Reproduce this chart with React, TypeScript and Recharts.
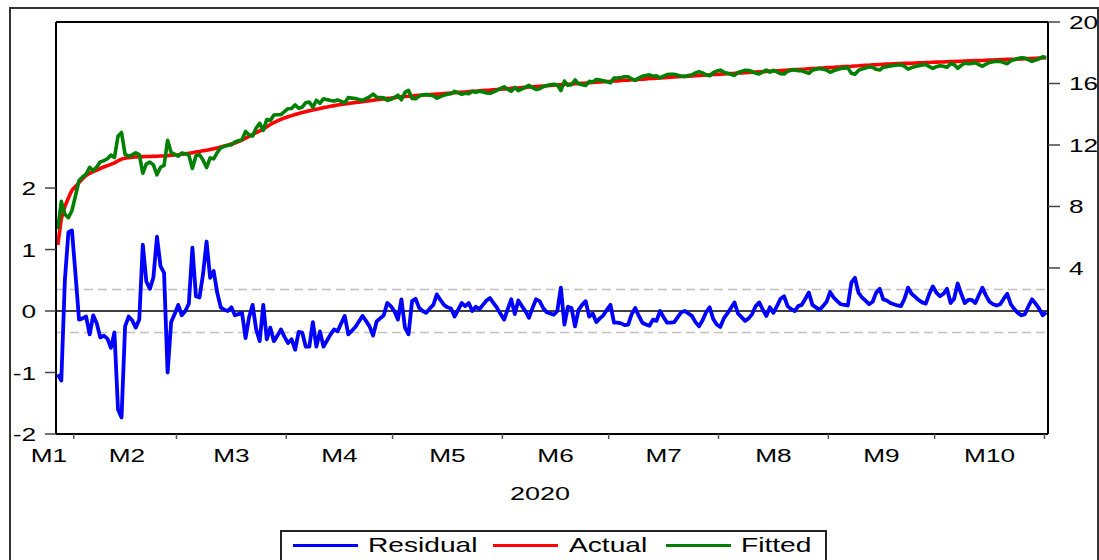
import React from 'react';
import { LineChart, Line, XAxis, YAxis, ReferenceLine } from 'recharts';

// daily observations, index 0 = first day of the sample
const RESIDUAL = [
  -1.03, -1.13, 0.5, 1.28, 1.31, 0.6, -0.14, -0.12, -0.09, -0.38,
  -0.07, -0.2, -0.43, -0.4, -0.45, -0.6, -0.35, -1.6, -1.73, -0.25,
  -0.09, -0.15, -0.27, -0.14, 1.08, 0.48, 0.36, 0.55, 1.21, 0.73,
  0.62, -1.0, -0.18, -0.05, 0.1, -0.07, 0.0, 0.12, 1.03, 0.24,
  0.22, 0.6, 1.13, 0.54, 0.65, 0.3, 0.06, 0.02, 0.0, 0.06,
  -0.07, -0.05, -0.03, -0.44, -0.1, 0.1, -0.3, -0.49, 0.1, -0.46,
  -0.27, -0.49, -0.4, -0.3, -0.42, -0.52, -0.46, -0.63, -0.34, -0.35,
  -0.58, -0.58, -0.18, -0.58, -0.33, -0.58, -0.48, -0.38, -0.3, -0.33,
  -0.2, -0.08, -0.38, -0.32, -0.26, -0.17, -0.08, -0.16, -0.25, -0.4,
  -0.17, -0.12, -0.07, 0.13, 0.08, 0.0, -0.14, 0.19, -0.27, -0.38,
  0.16, 0.2, 0.05, 0.0, -0.03, 0.04, 0.1, 0.27, 0.18, 0.1,
  0.06, 0.04, -0.09, 0.02, 0.13, 0.08, 0.13, 0.0, 0.07, 0.03,
  0.1, 0.17, 0.21, 0.13, 0.05, -0.05, -0.14, 0.03, 0.19, -0.05,
  0.17, 0.08, 0.0, -0.11, 0.05, 0.19, 0.16, 0.05, -0.02, -0.04,
  -0.06, 0.0, 0.38, -0.22, 0.07, 0.05, -0.25, 0.02, 0.1, 0.16,
  -0.09, -0.04, -0.18, -0.12, -0.07, 0.02, 0.1, -0.19, -0.19, -0.2,
  -0.23, -0.22, -0.05, 0.05, -0.08, -0.19, -0.22, -0.24, -0.14, -0.16,
  0.0, -0.1, -0.19, -0.19, -0.18, -0.1, -0.02, 0.0, -0.04, -0.08,
  -0.18, -0.25, -0.15, -0.02, 0.06, -0.13, -0.22, -0.26, -0.12, -0.04,
  0.05, 0.14, -0.04, -0.1, -0.16, -0.12, -0.05, 0.08, 0.14, 0.02,
  -0.08, 0.06, -0.03, 0.08, 0.2, 0.24, 0.08, 0.03, 0.0, 0.08,
  0.1, 0.2, 0.3, 0.1, 0.06, 0.02, 0.08, 0.15, 0.31, 0.22,
  0.16, 0.11, 0.1, 0.09, 0.46, 0.54, 0.3, 0.22, 0.17, 0.11,
  0.15, 0.3, 0.36, 0.19, 0.17, 0.13, 0.11, 0.09, 0.08, 0.2,
  0.38, 0.28, 0.23, 0.18, 0.14, 0.12, 0.28, 0.4, 0.3, 0.24,
  0.28, 0.36, 0.13, 0.2, 0.45, 0.28, 0.13, 0.18, 0.18, 0.13,
  0.26, 0.38, 0.25, 0.15, 0.11, 0.09, 0.11, 0.2, 0.28, 0.11,
  0.03, -0.03, -0.07, -0.05, 0.08, 0.19, 0.12, 0.04, -0.07, -0.02,
];

const ACTUAL = [
  5.5, 7.2, 8.0, 8.55, 9.05, 9.3, 9.55, 9.8, 10.02, 10.16,
  10.27, 10.37, 10.47, 10.57, 10.66, 10.74, 10.84, 10.97, 11.08, 11.14,
  11.18, 11.21, 11.22, 11.23, 11.24, 11.25, 11.25, 11.26, 11.27, 11.28,
  11.29, 11.31, 11.33, 11.35, 11.37, 11.4, 11.43, 11.46, 11.5, 11.54,
  11.58, 11.62, 11.66, 11.7, 11.75, 11.81, 11.87, 11.93, 11.99, 12.06,
  12.13, 12.22, 12.32, 12.44, 12.56, 12.68, 12.8, 12.92, 13.05, 13.19,
  13.33, 13.46, 13.57, 13.67, 13.76, 13.84, 13.91, 13.98, 14.05, 14.11,
  14.17, 14.22, 14.27, 14.33, 14.38, 14.43, 14.47, 14.52, 14.56, 14.6,
  14.64, 14.67, 14.7, 14.73, 14.76, 14.79, 14.82, 14.85, 14.88, 14.91,
  14.94, 14.97, 15.0, 15.03, 15.05, 15.08, 15.1, 15.13, 15.15, 15.17,
  15.19, 15.21, 15.23, 15.25, 15.26, 15.28, 15.3, 15.31, 15.32, 15.34,
  15.36, 15.38, 15.4, 15.42, 15.43, 15.45, 15.47, 15.49, 15.5, 15.52,
  15.54, 15.56, 15.57, 15.59, 15.61, 15.63, 15.64, 15.66, 15.68, 15.7,
  15.71, 15.73, 15.75, 15.77, 15.78, 15.8, 15.82, 15.84, 15.85, 15.87,
  15.89, 15.91, 15.92, 15.94, 15.95, 15.97, 15.98, 16.0, 16.02, 16.03,
  16.05, 16.06, 16.08, 16.1, 16.11, 16.13, 16.14, 16.16, 16.17, 16.19,
  16.21, 16.22, 16.24, 16.25, 16.27, 16.28, 16.3, 16.32, 16.33, 16.35,
  16.36, 16.38, 16.39, 16.41, 16.42, 16.44, 16.45, 16.46, 16.48, 16.49,
  16.51, 16.52, 16.54, 16.55, 16.56, 16.58, 16.59, 16.61, 16.62, 16.63,
  16.65, 16.66, 16.68, 16.69, 16.7, 16.72, 16.73, 16.75, 16.76, 16.77,
  16.79, 16.8, 16.82, 16.83, 16.84, 16.86, 16.87, 16.89, 16.9, 16.91,
  16.93, 16.94, 16.96, 16.97, 16.98, 17.0, 17.01, 17.03, 17.04, 17.05,
  17.07, 17.08, 17.1, 17.11, 17.12, 17.14, 17.15, 17.17, 17.18, 17.19,
  17.21, 17.22, 17.24, 17.25, 17.26, 17.27, 17.28, 17.29, 17.3, 17.31,
  17.31, 17.32, 17.33, 17.34, 17.35, 17.36, 17.37, 17.38, 17.39, 17.4,
  17.4, 17.41, 17.42, 17.43, 17.44, 17.45, 17.46, 17.47, 17.48, 17.49,
  17.49, 17.5, 17.51, 17.52, 17.53, 17.54, 17.55, 17.56, 17.57, 17.58,
  17.58, 17.59, 17.6, 17.61, 17.62, 17.63, 17.64, 17.65, 17.66, 17.67,
];

const FITTED = [
  6.53, 8.33, 7.5, 7.27, 7.74, 8.7, 9.69, 9.92, 10.11, 10.54,
  10.34, 10.57, 10.9, 10.97, 11.11, 11.34, 11.19, 12.57, 12.81, 11.39,
  11.27, 11.36, 11.49, 11.37, 10.16, 10.77, 10.89, 10.71, 10.06, 10.55,
  10.67, 12.31, 11.51, 11.4, 11.27, 11.47, 11.43, 11.34, 10.47, 11.3,
  11.36, 11.02, 10.53, 11.16, 11.1, 11.51, 11.81, 11.91, 11.99, 12.0,
  12.2, 12.27, 12.35, 12.88, 12.66, 12.58, 13.1, 13.41, 12.95, 13.65,
  13.6, 13.95, 13.97, 13.97, 14.18, 14.36, 14.37, 14.61, 14.39, 14.46,
  14.75, 14.8, 14.45, 14.91, 14.71, 15.01, 14.95, 14.9, 14.86, 14.93,
  14.84, 14.75, 15.08, 15.05, 15.02, 14.96, 14.9, 15.01, 15.13, 15.31,
  15.11, 15.09, 15.07, 14.9, 14.97, 15.08, 15.24, 14.94, 15.42, 15.55,
  15.03, 15.01, 15.18, 15.25, 15.29, 15.24, 15.2, 15.04, 15.14, 15.24,
  15.3, 15.34, 15.49, 15.4, 15.3, 15.37, 15.34, 15.49, 15.43, 15.49,
  15.44, 15.39, 15.36, 15.46, 15.56, 15.68, 15.78, 15.63, 15.49, 15.75,
  15.54, 15.65, 15.75, 15.88, 15.73, 15.61, 15.66, 15.79, 15.87, 15.91,
  15.95, 15.91, 15.54, 16.16, 15.88, 15.92, 16.23, 15.98, 15.92, 15.87,
  16.14, 16.1, 16.26, 16.22, 16.18, 16.11, 16.04, 16.35, 16.36, 16.39,
  16.44, 16.44, 16.29, 16.2, 16.35, 16.47, 16.52, 16.56, 16.47, 16.51,
  16.36, 16.48, 16.58, 16.6, 16.6, 16.54, 16.47, 16.46, 16.52, 16.57,
  16.69, 16.77, 16.69, 16.57, 16.5, 16.71, 16.81, 16.87, 16.74, 16.67,
  16.6, 16.52, 16.72, 16.79, 16.86, 16.84, 16.78, 16.67, 16.62, 16.75,
  16.87, 16.74, 16.85, 16.75, 16.64, 16.62, 16.79, 16.86, 16.9, 16.83,
  16.83, 16.74, 16.66, 16.87, 16.92, 16.98, 16.93, 16.88, 16.73, 16.83,
  16.91, 16.97, 17.0, 17.02, 16.66, 16.6, 16.85, 16.95, 17.01, 17.08,
  17.06, 16.92, 16.88, 17.06, 17.09, 17.14, 17.17, 17.2, 17.22, 17.11,
  16.93, 17.04, 17.1, 17.16, 17.21, 17.24, 17.09, 16.98, 17.09, 17.16,
  17.12, 17.05, 17.29, 17.23, 16.99, 17.17, 17.33, 17.29, 17.3, 17.36,
  17.23, 17.12, 17.26, 17.37, 17.42, 17.45, 17.44, 17.36, 17.29, 17.47,
  17.55, 17.62, 17.67, 17.66, 17.54, 17.44, 17.52, 17.61, 17.73, 17.69,
];

// month boundaries (tick marks) and month label positions, in day units
const MONTH_STARTS = [4.5, 33.5, 64.5, 94.5, 125.5, 155.5, 186.5, 217.5, 247.5, 278.5];
const MONTH_MIDS = [-2.5, 19.5, 49, 79.5, 110, 140.5, 171, 202, 232.5, 263];
const MONTH_LABELS = ['M1', 'M2', 'M3', 'M4', 'M5', 'M6', 'M7', 'M8', 'M9', 'M10'];
const LEFT_TICKS = [-2, -1, 0, 1, 2];
const RIGHT_TICKS = [4, 8, 12, 16, 20];
const LEFT_DOMAIN = [-2, 4.7];
const RIGHT_DOMAIN = [-6.8, 20];
const RESID_SD = 0.35;
const YEAR_LABEL = '2020';

const SERIES = [
  { key: 'residual', name: 'Residual', color: '#0000ff' },
  { key: 'actual', name: 'Actual', color: '#ff0000' },
  { key: 'fitted', name: 'Fitted', color: '#008000' },
];

const data = ACTUAL.map((a, i) => ({
  day: i,
  residual: RESIDUAL[i],
  actual: a,
  fitted: FITTED[i],
}));

const FONT = '"Liberation Sans", Arial, sans-serif';
const STRETCH = 1.38; // the original text is drawn wide

function MonthTick(props: any) {
  const { x, y, payload } = props;
  const idx = MONTH_MIDS.indexOf(payload.value);
  if (idx >= 0) {
    return (
      <g transform={`translate(${x},${y + 28}) scale(${STRETCH},1)`}>
        <text textAnchor="middle" fontSize={19} fontFamily={FONT} fill="#000">
          {MONTH_LABELS[idx]}
        </text>
      </g>
    );
  }
  return <line x1={x} x2={x} y1={y} y2={y + 5} stroke="#555" strokeWidth={1.5} />;
}

function ValueTick(props: any) {
  const { x, y, payload, textAnchor } = props;
  return (
    <g transform={`translate(${x},${y}) scale(${STRETCH},1)`}>
      <text textAnchor={textAnchor} dy={7} fontSize={19} fontFamily={FONT} fill="#000">
        {payload.value}
      </text>
    </g>
  );
}

const legendPos = [
  { line: 293, text: 368 },
  { line: 493, text: 569 },
  { line: 666, text: 741 },
];

export default function App() {
  return (
    <div style={{ position: 'absolute', left: 0, top: 0, width: 1099, height: 560, overflow: 'hidden', background: '#fff' }}>
      <div
        style={{
          position: 'absolute', left: 9, top: 7, width: 1086, height: 560,
          borderLeft: '2px solid #333', borderTop: '2px solid #333', borderRight: '2px solid #333',
        }}
      />
      <div style={{ position: 'absolute', left: 0, top: 0 }}>
        <LineChart width={1099} height={560} data={data} margin={{ top: 22, right: 0, bottom: 46, left: 0 }}>
          <XAxis
            xAxisId="b"
            dataKey="day"
            type="number"
            domain={[-0.5, 279.5]}
            allowDataOverflow
            ticks={[...MONTH_STARTS, ...MONTH_MIDS]}
            interval={0}
            tick={<MonthTick />}
            tickLine={false}
            tickSize={0}
            tickMargin={0}
            height={80}
            axisLine={{ stroke: '#000', strokeWidth: 2 }}
          />
          <YAxis
            yAxisId="l"
            type="number"
            domain={LEFT_DOMAIN}
            allowDataOverflow
            ticks={LEFT_TICKS}
            interval={0}
            width={56}
            tickSize={11}
            tickMargin={9}
            tickLine={{ stroke: '#444', strokeWidth: 1.5 }}
            axisLine={{ stroke: '#000', strokeWidth: 2 }}
            tick={<ValueTick />}
          />
          <YAxis
            yAxisId="r"
            orientation="right"
            type="number"
            domain={RIGHT_DOMAIN}
            allowDataOverflow
            ticks={RIGHT_TICKS}
            interval={0}
            width={51}
            tickSize={12}
            tickMargin={9}
            tickLine={{ stroke: '#444', strokeWidth: 1.5 }}
            axisLine={{ stroke: '#000', strokeWidth: 2 }}
            tick={<ValueTick />}
          />
          {/* top edge of the plot frame */}
          <ReferenceLine xAxisId="b" yAxisId="l" y={LEFT_DOMAIN[1]} stroke="#000" strokeWidth={2} ifOverflow="visible" />
          <ReferenceLine xAxisId="b" yAxisId="l" y={RESID_SD} stroke="#c0c0c0" strokeWidth={1.5} strokeDasharray="9 5" />
          <ReferenceLine xAxisId="b" yAxisId="l" y={-RESID_SD} stroke="#c0c0c0" strokeWidth={1.5} strokeDasharray="9 5" />
          <ReferenceLine xAxisId="b" yAxisId="l" y={0} stroke="#000" strokeWidth={1.3} />
          <Line
            xAxisId="b" yAxisId="l" type="linear" dataKey="residual" name="Residual"
            stroke="#0000ff" strokeWidth={3.8} dot={false} isAnimationActive={false} strokeLinejoin="round"
          />
          <Line
            xAxisId="b" yAxisId="r" type="linear" dataKey="actual" name="Actual"
            stroke="#ff0000" strokeWidth={3.6} dot={false} isAnimationActive={false} strokeLinejoin="round"
          />
          <Line
            xAxisId="b" yAxisId="r" type="linear" dataKey="fitted" name="Fitted"
            stroke="#008000" strokeWidth={3.6} dot={false} isAnimationActive={false} strokeLinejoin="round"
          />
        </LineChart>
      </div>
      <div
        style={{
          position: 'absolute', left: 440, top: 484, width: 200, textAlign: 'center',
          fontFamily: FONT, fontSize: 19, lineHeight: '19px', color: '#000',
          transform: 'scaleX(1.42)', transformOrigin: 'center',
        }}
      >
        {YEAR_LABEL}
      </div>
      <div
        style={{
          position: 'absolute', left: 280, top: 530, width: 543, height: 40,
          border: '2px solid #222', background: '#fff',
        }}
      />
      {SERIES.map((s, i) => (
        <React.Fragment key={s.key}>
          <div
            style={{
              position: 'absolute', left: legendPos[i].line, top: 544, width: 65, height: 3,
              background: s.color,
            }}
          />
          <div
            style={{
              position: 'absolute', left: legendPos[i].text, top: 534, whiteSpace: 'nowrap',
              fontFamily: FONT, fontSize: 21, lineHeight: '21px', color: '#000',
              transform: 'scaleX(1.34)', transformOrigin: 'left',
            }}
          >
            {s.name}
          </div>
        </React.Fragment>
      ))}
    </div>
  );
}
